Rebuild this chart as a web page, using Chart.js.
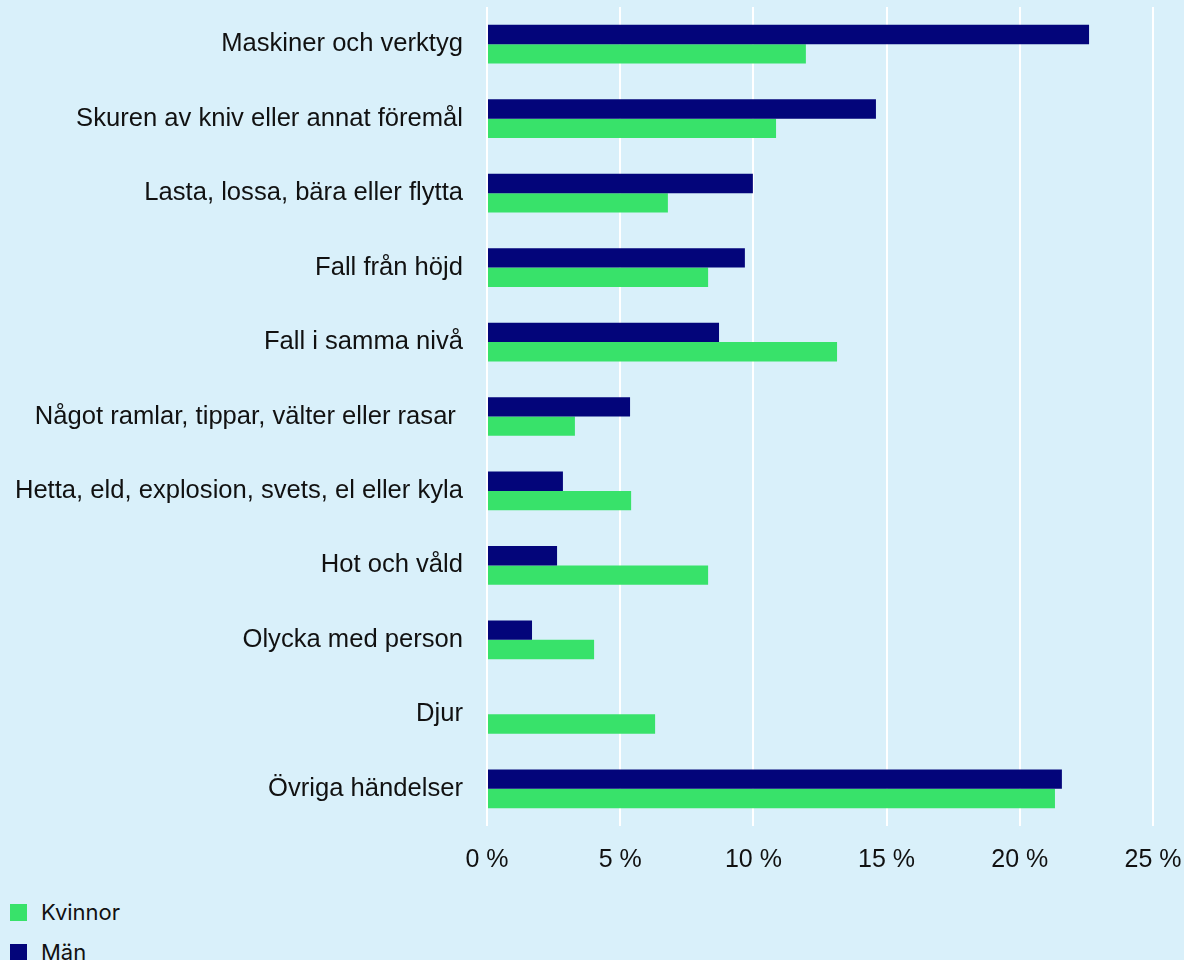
<!DOCTYPE html>
<html><head><meta charset="utf-8">
<script src="https://cdn.jsdelivr.net/npm/chart.js@4/dist/chart.umd.min.js"></script>
<style>
html,body{margin:0;padding:0;background:#d9f0fa;}
#wrap{position:relative;width:1184px;height:880px;}
#legend{position:absolute;left:10px;top:892px;font-family:Inter,Lato,"Noto Sans",sans-serif;font-size:22px;color:#111;}
.li{display:flex;align-items:center;height:40px;}
.sw{width:17px;height:17px;margin-right:14px;}
</style></head>
<body>
<div id="wrap"><canvas id="c" width="1184" height="880"></canvas></div>
<div id="legend"></div>
<script>
const categories = ["Maskiner och verktyg","Skuren av kniv eller annat föremål","Lasta, lossa, bära eller flytta","Fall från höjd","Fall i samma nivå","Något ramlar, tippar, välter eller rasar ","Hetta, eld, explosion, svets, el eller kyla","Hot och våld","Olycka med person","Djur","Övriga händelser"];
const man = [22.6, 14.6, 9.98, 9.68, 8.71, 5.37, 2.85, 2.63, 1.69, 0, 21.58];
const kvinnor = [11.97, 10.85, 6.79, 8.3, 13.14, 3.3, 5.41, 8.3, 4.02, 6.31, 21.32];
const tickValues = [0, 5, 10, 15, 20, 25];
const seriesNames = ["Män", "Kvinnor"];
const colors = ["#03057a", "#38e26a"];
const fontFamily = "'Liberation Sans', Arial, sans-serif";

const chart = new Chart(document.getElementById('c'), {
  type: 'bar',
  data: {
    labels: categories,
    datasets: [
      {label: seriesNames[0], data: man, backgroundColor: colors[0], categoryPercentage: 0.52, barPercentage: 1},
      {label: seriesNames[1], data: kvinnor, backgroundColor: colors[1], categoryPercentage: 0.52, barPercentage: 1}
    ]
  },
  options: {
    indexAxis: 'y',
    responsive: false,
    animation: false,
    layout: {padding: {top: 7, right: 31, left: 0, bottom: 0}},
    plugins: {legend: {display: false}, tooltip: {enabled: false}},
    scales: {
      x: {
        min: 0, max: 25,
        afterBuildTicks: s => { s.ticks = tickValues.map(v => ({value: v})); },
        afterFit: s => { s.height = 54; s.paddingLeft = 0; s.paddingRight = 0; },
        grid: {color: '#ffffff', lineWidth: 2, drawTicks: false},
        border: {display: false},
        ticks: {padding: 19, color: '#111', font: {family: fontFamily, size: 25}, callback: v => v + ' %'}
      },
      y: {
        afterFit: s => { s.width = 487; s.paddingTop = 0; s.paddingBottom = 0; },
        grid: {display: false, drawTicks: false},
        border: {display: false},
        ticks: {padding: 24, color: '#111', font: {family: fontFamily, size: 25.6}}
      }
    }
  }
});

const lg = document.getElementById('legend');
[1, 0].forEach(i => {
  const d = document.createElement('div'); d.className = 'li';
  d.innerHTML = '<span class="sw" style="background:' + colors[i] + '"></span><span>' + seriesNames[i] + '</span>';
  lg.appendChild(d);
});
</script>
</body></html>
